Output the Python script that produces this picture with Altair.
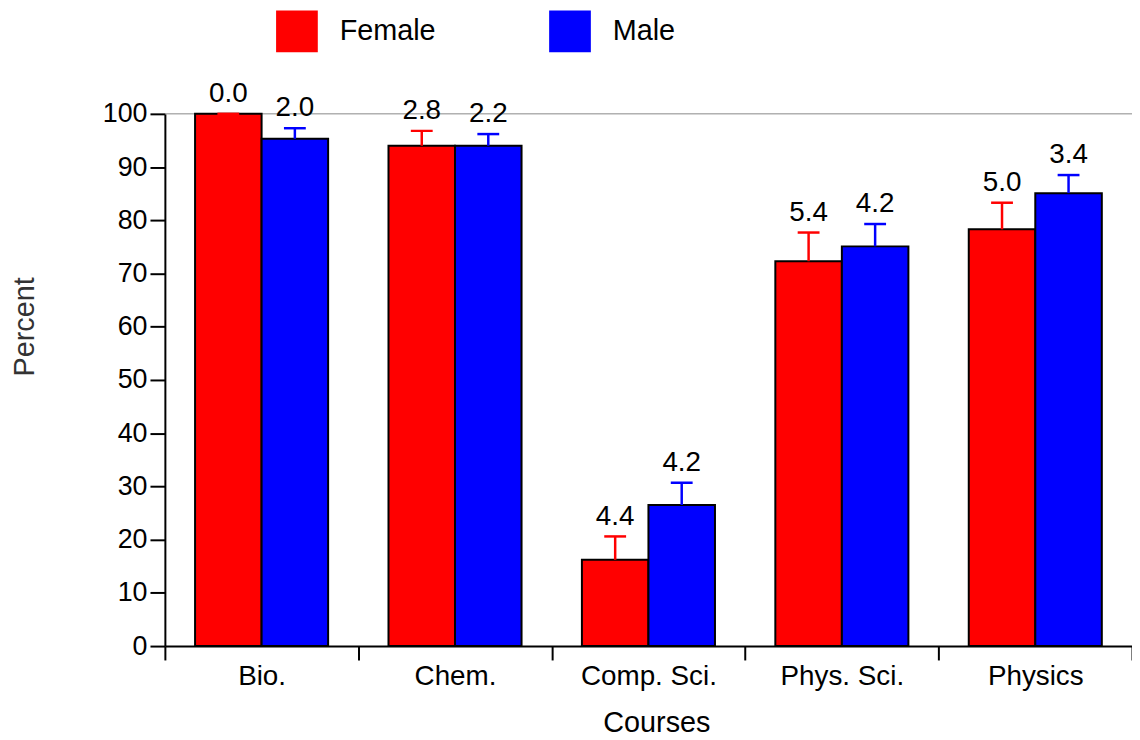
import altair as alt
import pandas as pd

courses = ["Bio.", "Chem.", "Comp. Sci.", "Phys. Sci.", "Physics"]
series = ["Female", "Male"]
female = [100.0, 94.0, 16.2, 72.3, 78.3]
male = [95.3, 94.0, 26.5, 75.1, 85.1]
female_err = [0.0, 2.8, 4.4, 5.4, 5.0]
male_err = [2.0, 2.2, 4.2, 4.2, 3.4]
colors = ["#ff0000", "#0000ff"]

rows = []
for c, v, e in zip(courses, female, female_err):
    rows.append({"course": c, "sex": "Female", "value": v, "err": e, "top": v + e})
for c, v, e in zip(courses, male, male_err):
    rows.append({"course": c, "sex": "Male", "value": v, "err": e, "top": v + e})
df = pd.DataFrame(rows)

FONT = "Liberation Sans"
W, H = 974, 536

x = alt.X("course:N", sort=courses,
          scale=alt.Scale(paddingInner=0, paddingOuter=0),
          axis=alt.Axis(title="Courses", labelAngle=0, tickBand="extent",
                        tickSize=14, tickWidth=2, tickColor="black",
                        domainColor="black", domainWidth=2,
                        labelFontSize=28, labelFont=FONT, labelColor="black",
                        labelPadding=3,
                        titleFontSize=29, titleFont=FONT, titleFontWeight="normal",
                        titleColor="black", titleX=495, titleY=77,
                        titleBaseline="middle", titleAlign="center"))
xo = alt.XOffset("sex:N", sort=series,
                 scale=alt.Scale(paddingInner=0, paddingOuter=0.4536))
y = alt.Y("value:Q",
          scale=alt.Scale(domain=[0, 100], nice=False),
          axis=alt.Axis(title="Percent", values=list(range(0, 101, 10)),
                        tickSize=15, tickWidth=2, tickColor="black",
                        domainColor="black", domainWidth=2, grid=False,
                        labelFontSize=27, labelFont=FONT, labelColor="black",
                        labelPadding=3,
                        titleFontSize=29, titleFont=FONT, titleFontWeight="normal",
                        titleColor="#333333", titleAngle=270, titleX=-141, titleY=214,
                        titleBaseline="middle", titleAlign="center"))
color = alt.Color("sex:N", sort=series,
                  scale=alt.Scale(domain=series, range=colors),
                  legend=alt.Legend(title=None, orient="none", legendX=112, legendY=-104,
                                    direction="horizontal", symbolType="square",
                                    symbolSize=1600, symbolStrokeColor="black",
                                    symbolStrokeWidth=2, symbolOpacity=1,
                                    labelFontSize=29, labelFont=FONT, labelColor="black",
                                    labelOffset=22, columnPadding=111, padding=0))

base = alt.Chart(df)

top_line = alt.Chart(pd.DataFrame({"v": [100]})).mark_rule(
    color="#888888", strokeWidth=1).encode(y=alt.Y("v:Q", scale=alt.Scale(domain=[0, 100])))

bars = base.mark_bar(stroke="black", strokeWidth=2, opacity=1).encode(
    x=x, xOffset=xo, y=y, color=color)

err_rule = base.mark_rule(strokeWidth=2.5).encode(
    x=alt.X("course:N", sort=courses), xOffset=xo,
    y="value:Q", y2="top:Q",
    color=alt.Color("sex:N", sort=series, scale=alt.Scale(domain=series, range=colors), legend=None))

err_cap = base.mark_tick(size=22, thickness=2.5, opacity=1).encode(
    x=alt.X("course:N", sort=courses), xOffset=xo,
    y="top:Q",
    color=alt.Color("sex:N", sort=series, scale=alt.Scale(domain=series, range=colors), legend=None))

labels = base.mark_text(fontSize=28, font=FONT, color="black", baseline="alphabetic",
                        align="center", dy=-12).encode(
    x=alt.X("course:N", sort=courses), xOffset=xo,
    y="top:Q",
    text=alt.Text("err:Q", format=".1f"))

chart = alt.layer(top_line, bars, err_rule, err_cap, labels).properties(
    width=W, height=H,
    autosize=alt.AutoSizeParams(type="none"),
    padding={"left": 158, "top": 104, "right": 0, "bottom": 92},
).configure_view(stroke=None)

chart.save("out.html", embed_options={"renderer": "svg", "actions": False})
